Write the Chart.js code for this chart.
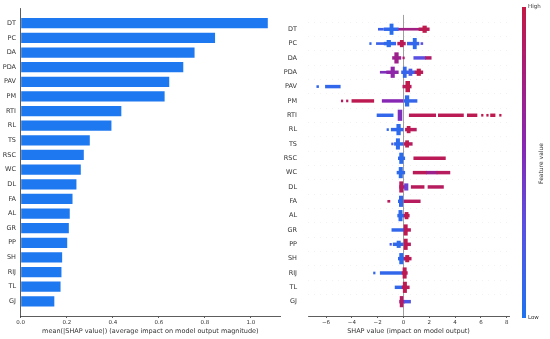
<!DOCTYPE html>
<html>
<head>
<meta charset="utf-8">
<script src="https://cdn.jsdelivr.net/npm/chart.js@4"></script>
<style>
  body { margin: 0; background: #fff; }
  #wrap { position: relative; width: 550px; height: 339px; overflow: hidden; }
  #barChart { position: absolute; left: 0; top: 0; }
  #swarmChart { position: absolute; left: 270px; top: 0; }
</style>
</head>
<body>
<div id="wrap">
  <canvas id="barChart" width="282" height="339"></canvas>
  <canvas id="swarmChart" width="280" height="339"></canvas>
</div>
<script>
const features = ["DT", "PC", "DA", "PDA", "PAV", "PM", "RTI", "RL", "TS", "RSC",
  "WC", "DL", "FA", "AL", "GR", "PP", "SH", "RIJ", "TL", "GJ"];
const meanAbsShap = [1.073, 0.844, 0.755, 0.706, 0.645, 0.625, 0.437, 0.394, 0.300, 0.274,
  0.261, 0.242, 0.225, 0.213, 0.209, 0.202, 0.180, 0.177, 0.173, 0.146];
const impactTicks = [0, 0.2, 0.4, 0.6, 0.8, 1.0];
const shapTicks = [-6, -4, -2, 0, 2, 4, 6, 8];

// beeswarm read off the picture as runs of points:
// [feature, shap from, shap to, density 1-4, feature value 0 (low) - 1 (high)]
const shapRuns = [
  ["DT", -1.95, -1.55, 1, 0.15], ["DT", -1.5, -0.4, 2, 0.1], ["DT", -1.05, -0.8, 4, 0.05],
  ["DT", -0.4, 1.2, 1, 0.75], ["DT", 1.2, 2.0, 2, 0.92], ["DT", 1.5, 1.78, 3, 0.97],
  ["PC", -2.62, -2.5, 1, 0.1], ["PC", -2.1, -1.5, 1, 0.15], ["PC", -1.5, -0.6, 2, 0.1],
  ["PC", -1.28, -1.0, 3, 0.06], ["PC", -0.45, 0.15, 2, 0.9], ["PC", -0.25, -0.02, 3, 0.95],
  ["PC", 0.3, 1.2, 2, 0.15], ["PC", 0.75, 1.0, 4, 0.08], ["PC", 1.35, 1.5, 1, 0.3],
  ["DA", -0.85, -0.2, 2, 0.7], ["DA", -0.68, -0.4, 4, 0.72], ["DA", -0.05, 0.07, 1, 0.85],
  ["DA", 0.8, 1.7, 2, 0.3], ["DA", 1.7, 2.15, 2, 0.85],
  ["PDA", -1.8, -1.3, 1, 0.5], ["PDA", -1.3, -0.4, 2, 0.6], ["PDA", -0.97, -0.7, 4, 0.6],
  ["PDA", -0.15, 0.9, 2, 0.15], ["PDA", -0.02, 0.22, 4, 0.1], ["PDA", 0.42, 0.66, 3, 0.2],
  ["PDA", 0.9, 1.5, 2, 0.9], ["PDA", 1.05, 1.32, 3, 0.97],
  ["PAV", -6.72, -6.58, 1, 0.1], ["PAV", -6.05, -4.9, 2, 0.1], ["PAV", -0.05, 0.6, 2, 0.9],
  ["PAV", 0.18, 0.48, 4, 0.97],
  ["PM", -4.82, -4.7, 1, 0.9], ["PM", -4.42, -4.3, 1, 0.9], ["PM", -4.0, -2.3, 2, 0.95],
  ["PM", -1.65, 0.0, 2, 0.55], ["PM", 0.0, 1.05, 2, 0.12], ["PM", 0.14, 0.42, 4, 0.08],
  ["RTI", -2.05, -0.8, 2, 0.1], ["RTI", -0.42, -0.12, 4, 0.5], ["RTI", 0.45, 2.5, 2, 0.93],
  ["RTI", 2.7, 4.65, 2, 0.94], ["RTI", 4.95, 5.7, 2, 0.95], ["RTI", 6.05, 6.17, 1, 0.96],
  ["RTI", 6.45, 6.57, 1, 0.96], ["RTI", 6.75, 7.1, 2, 0.96], ["RTI", 7.45, 7.57, 1, 0.96],
  ["RL", -1.28, -1.16, 1, 0.1], ["RL", -0.95, 0.0, 2, 0.1], ["RL", -0.52, -0.24, 4, 0.08],
  ["RL", 0.15, 1.0, 2, 0.9], ["RL", 0.28, 0.52, 3, 0.96],
  ["TS", -0.92, -0.8, 1, 0.2], ["TS", -0.7, 0.0, 2, 0.1], ["TS", -0.56, -0.3, 4, 0.08],
  ["TS", 0.0, 0.68, 2, 0.9], ["TS", 0.16, 0.4, 3, 0.96],
  ["RSC", -0.4, 0.1, 2, 0.1], ["RSC", -0.3, -0.04, 4, 0.06], ["RSC", 0.8, 3.25, 2, 0.93],
  ["WC", -0.5, 0.1, 2, 0.1], ["WC", -0.34, -0.08, 4, 0.06], ["WC", 0.75, 1.8, 2, 0.93],
  ["WC", 1.8, 2.6, 2, 0.72], ["WC", 2.6, 3.6, 2, 0.9],
  ["DL", -0.3, 0.3, 2, 0.75], ["DL", -0.3, -0.05, 4, 0.9], ["DL", 0.08, 0.35, 3, 0.4],
  ["DL", 0.6, 1.6, 2, 0.92], ["DL", 1.9, 3.1, 2, 0.9],
  ["FA", -1.22, -1.05, 1, 0.9], ["FA", -0.4, 0.0, 2, 0.1], ["FA", -0.32, -0.06, 4, 0.1],
  ["FA", 0.0, 1.3, 2, 0.9],
  ["AL", -0.45, 0.05, 2, 0.1], ["AL", -0.36, -0.1, 4, 0.08], ["AL", 0.05, 0.45, 2, 0.92],
  ["AL", 0.12, 0.36, 3, 0.97],
  ["GR", -0.9, 0.05, 2, 0.1], ["GR", 0.05, 0.55, 2, 0.9], ["GR", 0.04, 0.3, 4, 0.95],
  ["PP", -1.05, -0.93, 1, 0.2], ["PP", -0.8, 0.0, 2, 0.1], ["PP", -0.5, -0.24, 3, 0.08],
  ["PP", 0.0, 0.55, 2, 0.9], ["PP", 0.05, 0.3, 4, 0.95],
  ["SH", -0.4, 0.1, 2, 0.1], ["SH", -0.3, -0.04, 4, 0.08], ["SH", 0.05, 0.6, 2, 0.9],
  ["SH", 0.16, 0.42, 3, 0.97],
  ["RIJ", -2.32, -2.2, 1, 0.1], ["RIJ", -1.8, -0.1, 2, 0.1], ["RIJ", -0.1, 0.3, 2, 0.9],
  ["RIJ", -0.04, 0.22, 4, 0.95],
  ["TL", -0.65, 0.0, 2, 0.1], ["TL", -0.1, 0.45, 2, 0.9], ["TL", -0.02, 0.24, 4, 0.95],
  ["GJ", -0.3, 0.1, 2, 0.7], ["GJ", -0.26, 0.0, 4, 0.88], ["GJ", 0.05, 0.55, 2, 0.25]
];

Chart.defaults.font.family = "'DejaVu Sans', sans-serif";
Chart.defaults.color = "#333";

const axisColor = "#333";
const barBlue = "rgb(30,120,240)";
const colorStops = [
  [0, [30, 115, 240]], [0.3, [90, 80, 225]], [0.55, [135, 40, 180]],
  [0.8, [168, 30, 120]], [1, [195, 25, 68]]
];

function featureColor(v) {
  for (let i = 1; i < colorStops.length; i++) {
    const [p1, c1] = colorStops[i];
    const [p0, c0] = colorStops[i - 1];
    if (v <= p1) {
      const t = (v - p0) / (p1 - p0);
      const c = c0.map((a, k) => Math.round(a + (c1[k] - a) * t));
      return `rgb(${c.join(",")})`;
    }
  }
  return `rgb(${colorStops[colorStops.length - 1][1].join(",")})`;
}

// one empty row above and below, as in the original plot
const rows = [""].concat(features, [" "]);

function xAxis(min, max, ticks, label, fmt) {
  return {
    type: "linear",
    min: min,
    max: max,
    afterBuildTicks: (scale) => { scale.ticks = ticks.map((v) => ({ value: v })); },
    grid: { drawOnChartArea: false, tickLength: 2, tickColor: axisColor, tickWidth: 0.8 },
    border: { color: axisColor, width: 0.8 },
    ticks: { padding: 1, font: { size: 5.5 }, maxRotation: 0, callback: fmt },
    title: { display: true, text: label, font: { size: 6.5 }, padding: { top: 1, bottom: 0 } }
  };
}

new Chart(document.getElementById("barChart"), {
  type: "bar",
  data: {
    labels: rows,
    datasets: [{
      data: [null].concat(meanAbsShap, [null]),
      backgroundColor: barBlue,
      barPercentage: 0.7,
      categoryPercentage: 1
    }]
  },
  options: {
    indexAxis: "y",
    responsive: false,
    animation: false,
    layout: { padding: { top: 4.5, right: 2, bottom: 3.6, left: 0 } },
    plugins: { legend: { display: false }, tooltip: { enabled: false } },
    scales: {
      x: xAxis(0, 1.126, impactTicks,
        "mean(|SHAP value|) (average impact on model output magnitude)",
        (v) => v.toFixed(1)),
      y: {
        offset: false,
        afterFit: (scale) => { scale.width = 20.7; },
        grid: { display: false, drawTicks: false },
        border: { color: axisColor, width: 0.8 },
        ticks: { padding: 4.7, font: { size: 6.5 }, autoSkip: false }
      }
    }
  }
});

const colorBar = {
  id: "colorBar",
  afterDraw(chart) {
    const ctx = chart.ctx;
    const x = 252, top = 7, bottom = 318, w = 4;
    const g = ctx.createLinearGradient(0, bottom, 0, top);
    colorStops.forEach((s) => g.addColorStop(s[0], `rgb(${s[1].join(",")})`));
    ctx.save();
    ctx.fillStyle = g;
    ctx.fillRect(x, top, w, bottom - top);
    ctx.fillStyle = axisColor;
    ctx.font = "5.5px 'DejaVu Sans'";
    ctx.textBaseline = "middle";
    ctx.textAlign = "left";
    ctx.fillText("High", x + w + 2, top);
    ctx.fillText("Low", x + w + 2, bottom);
    ctx.translate(271.5, 163.5);
    ctx.rotate(-Math.PI / 2);
    ctx.font = "6px 'DejaVu Sans'";
    ctx.textAlign = "center";
    ctx.fillText("Feature value", 0, 0);
    ctx.restore();
  }
};

const levelThickness = { 1: 2, 2: 2.8, 3: 6.5, 4: 10.5 };
const swarmSets = [4, 3, 2, 1].map((level) => ({
  data: shapRuns.filter((r) => r[3] === level)
    .map((r) => ({ y: r[0], x: [r[1], r[2]], fv: r[4] })),
  barThickness: levelThickness[level],
  grouped: false,
  borderWidth: 0,
  backgroundColor: (ctx) => (ctx.raw ? featureColor(ctx.raw.fv) : barBlue)
}));

const swarmX = xAxis(-7.4, 8.18, shapTicks, "SHAP value (impact on model output)",
  (v) => (v < 0 ? "\u2212" + Math.abs(v) : String(v)));
swarmX.grid = {
  drawOnChartArea: true,
  tickLength: 2,
  tickColor: axisColor,
  tickWidth: 0.8,
  lineWidth: 1,
  color: (ctx) => (ctx.tick && ctx.tick.value === 0 ? "#a0a0a0" : "rgba(0,0,0,0)")
};

new Chart(document.getElementById("swarmChart"), {
  type: "bar",
  data: { labels: rows, datasets: swarmSets },
  options: {
    indexAxis: "y",
    responsive: false,
    animation: false,
    layout: { padding: { top: 6.8, right: 41, bottom: 3.6, left: 0 } },
    plugins: { legend: { display: false }, tooltip: { enabled: false } },
    scales: {
      x: swarmX,
      y: {
        offset: false,
        afterFit: (scale) => { scale.width = 38; },
        grid: {
          drawTicks: false,
          lineWidth: 0.5,
          color: (ctx) => (ctx.index === 0 || ctx.index === rows.length - 1 ? "rgba(0,0,0,0)" : "#e4e4e4")
        },
        border: { display: false, dash: [1, 5] },
        ticks: { padding: 11, font: { size: 6.5 }, autoSkip: false }
      }
    }
  },
  plugins: [colorBar]
});
</script>
</body>
</html>
